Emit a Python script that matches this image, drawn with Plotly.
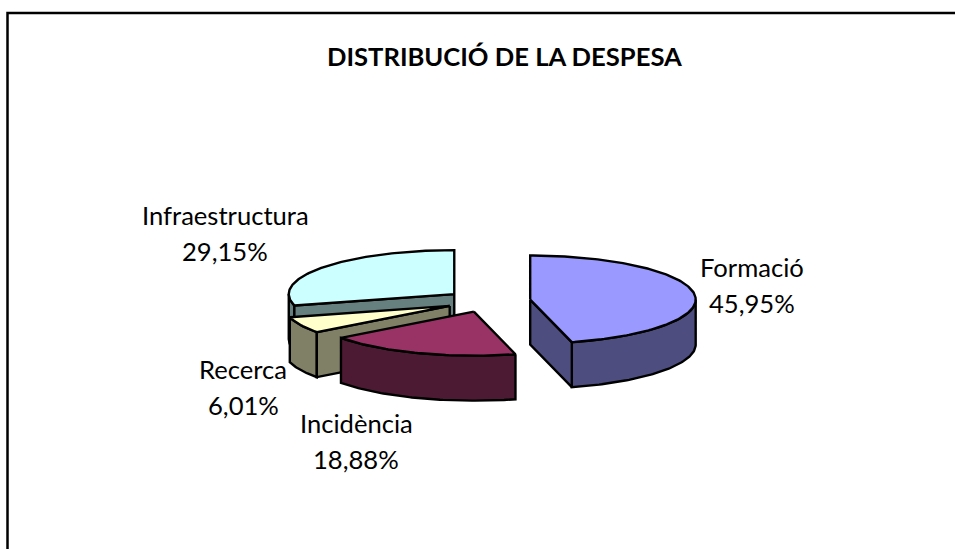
import math
import plotly.graph_objects as go

categories = ["Formació", "Incidència", "Recerca", "Infraestructura"]
values = [45.95, 18.88, 6.01, 29.15]
top_colors = ["#9999FF", "#993366", "#FFFFCC", "#CCFFFF"]
wall_colors = ["#4D4D80", "#4D1A33", "#808066", "#668080"]
title = "DISTRIBUCIÓ DE LA DESPESA"
label_x = [752, 356, 243, 225]
label_y = [267, 423, 369, 215]

# projected pie geometry (plot units = pixels)
CX, CY, RX, RY, DEPTH, EXPLODE = 488, 301, 165.5, 44, 45, 0.257
FONT = "Lato"


def pt(c, ang, z=0):
    a = math.radians(ang)
    return c[0] + RX * math.sin(a), c[1] - RY * math.cos(a) + z


def arc(c, a0, a1, z=0):
    n = max(2, int(abs(a1 - a0)) + 1)
    return [pt(c, a0 + (a1 - a0) * i / (n - 1), z) for i in range(n)]


fig = go.Figure()


def poly(points, color):
    xs = [p[0] for p in points] + [points[0][0]]
    ys = [p[1] for p in points] + [points[0][1]]
    fig.add_trace(go.Scatter(x=xs, y=ys, mode="lines", fill="toself", fillcolor=color,
                             line=dict(color="black", width=2.4), hoverinfo="skip", showlegend=False))


total = sum(values)
spans = []
acc = 0
for v in values:
    spans.append((acc, acc + v / total * 360))
    acc += v / total * 360

# back-most slice first: Infraestructura, Recerca, Incidència, Formació
for i in [3, 2, 1, 0]:
    a0, a1 = spans[i]
    mid = math.radians((a0 + a1) / 2)
    c = (CX + EXPLODE * RX * math.sin(mid), CY - EXPLODE * RY * math.cos(mid))
    # rim wall: only the part that faces the viewer (90° to 270°)
    r0, r1 = max(a0, 90), min(a1, 270)
    if r1 > r0:
        poly(arc(c, r0, r1) + arc(c, r1, r0, DEPTH), wall_colors[i])
    # radial walls that face the viewer
    for ang, normal in ((a0, a0 - 90), (a1, a1 + 90)):
        if math.cos(math.radians(normal)) < -1e-6:
            p = pt(c, ang)
            poly([c, p, (p[0], p[1] + DEPTH), (c[0], c[1] + DEPTH)], wall_colors[i])
    poly([c] + arc(c, a0, a1), top_colors[i])

annotations = [dict(x=504, y=56, text=f"<b>{title}</b>", showarrow=False,
                    font=dict(family=FONT, size=25.6, color="black"))]
for name, v, lx, ly in zip(categories, values, label_x, label_y):
    annotations.append(dict(x=lx, y=ly, text=name, showarrow=False,
                            font=dict(family=FONT, size=25.6, color="black")))
    annotations.append(dict(x=lx, y=ly + 36, text=f"{v:.2f}%".replace(".", ","), showarrow=False,
                            font=dict(family=FONT, size=25.6, color="black")))

fig.update_layout(
    width=955, height=549, autosize=False,
    margin=dict(l=0, r=0, t=0, b=0),
    paper_bgcolor="white", plot_bgcolor="white",
    xaxis=dict(range=[0, 955], visible=False, fixedrange=True),
    yaxis=dict(range=[549, 0], visible=False, fixedrange=True),
    annotations=annotations,
    shapes=[dict(type="rect", x0=7.5, y0=13, x1=970, y1=570,
                 line=dict(color="black", width=2.5), layer="below")],
)
fig.write_html("out.html", config={"displayModeBar": False},
               post_script="document.body.style.margin='0';document.body.style.overflow='hidden';")
